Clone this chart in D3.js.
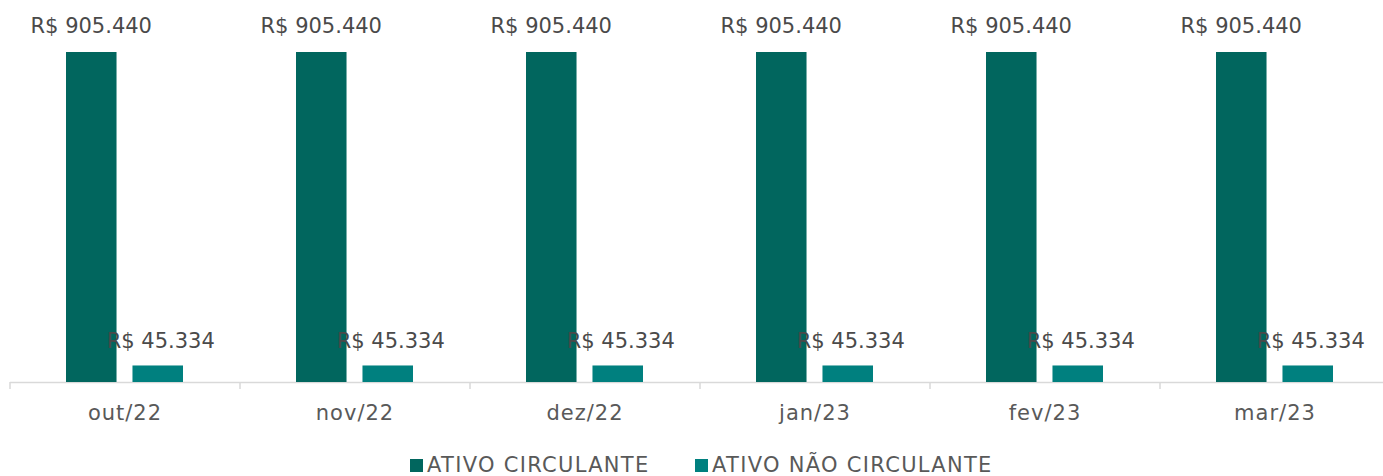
<!DOCTYPE html>
<html>
<head>
<meta charset="utf-8">
<script src="https://cdn.jsdelivr.net/npm/d3@7"></script>
<style>
  body { margin: 0; background: #fff; }
  svg text { font-family: "Century Gothic", "DejaVu Sans", sans-serif; }
</style>
</head>
<body>
<svg id="chart" width="1383" height="476"></svg>
<script>
var months = ['out/22', 'nov/22', 'dez/22', 'jan/23', 'fev/23', 'mar/23'];
var seriesNames = ['ATIVO CIRCULANTE', 'ATIVO NÃO CIRCULANTE'];
var ativoCirculante = [905440, 905440, 905440, 905440, 905440, 905440];
var ativoNaoCirculante = [45334, 45334, 45334, 45334, 45334, 45334];
var colors = ['#01665e', '#00807f'];

var svg = d3.select('#chart');
var left = 10, right = 1390, baseY = 382, topY = 52;

var x = d3.scaleBand().domain(months).range([left, right]);
var inner = d3.scaleBand().domain([0, 1]).range([-59, 58]).paddingInner(0.24);
var y = d3.scaleLinear().domain([0, 905440]).range([baseY, topY]);

var fmt = function(v) {
  return 'R$ ' + d3.format(',')(v).replace(/,/g, '.');
};

// axis line + ticks between categories
svg.append('line')
  .attr('x1', left).attr('x2', 1383)
  .attr('y1', baseY + 0.5).attr('y2', baseY + 0.5)
  .attr('stroke', '#d9d9d9').attr('stroke-width', 1.5);

svg.selectAll('line.tick')
  .data(d3.range(months.length + 1))
  .enter().append('line')
  .attr('class', 'tick')
  .attr('x1', function(i) { return left + i * x.step(); })
  .attr('x2', function(i) { return left + i * x.step(); })
  .attr('y1', baseY).attr('y2', baseY + 7)
  .attr('stroke', '#d9d9d9').attr('stroke-width', 1.5);

var series = [ativoCirculante, ativoNaoCirculante];

series.forEach(function(values, s) {
  var g = svg.append('g');
  g.selectAll('rect')
    .data(values)
    .enter().append('rect')
    .attr('x', function(d, i) { return x(months[i]) + x.bandwidth() / 2 + inner(s); })
    .attr('width', inner.bandwidth())
    .attr('y', function(d) { return y(d); })
    .attr('height', function(d) { return baseY - y(d); })
    .attr('fill', colors[s]);

  g.selectAll('text')
    .data(values)
    .enter().append('text')
    .attr('x', function(d, i) { return x(months[i]) + x.bandwidth() / 2 + inner(s) + inner.bandwidth() / 2 + (s === 1 ? 3 : 0); })
    .attr('y', function(d) { return y(d) - (s === 0 ? 19 : 17); })
    .attr('text-anchor', 'middle')
    .attr('font-size', 21)
    .attr('fill', '#4a4a4a')
    .text(function(d) { return fmt(d); });
});

// category labels
svg.selectAll('text.cat')
  .data(months)
  .enter().append('text')
  .attr('class', 'cat')
  .attr('x', function(d) { return x(d) + x.bandwidth() / 2; })
  .attr('y', 420)
  .attr('text-anchor', 'middle')
  .attr('font-size', 21)
  .attr('letter-spacing', 1)
  .attr('fill', '#595959')
  .text(function(d) { return d; });

// legend
var legendX = [410, 695];
seriesNames.forEach(function(name, s) {
  var lg = svg.append('g').attr('transform', 'translate(' + legendX[s] + ',0)');
  lg.append('rect')
    .attr('x', 0).attr('y', 459).attr('width', 13).attr('height', 13)
    .attr('fill', colors[s]);
  lg.append('text')
    .attr('x', 17).attr('y', 472)
    .attr('font-size', 21)
    .attr('letter-spacing', 1.3)
    .attr('fill', '#595959')
    .text(name);
});
</script>
</body>
</html>
